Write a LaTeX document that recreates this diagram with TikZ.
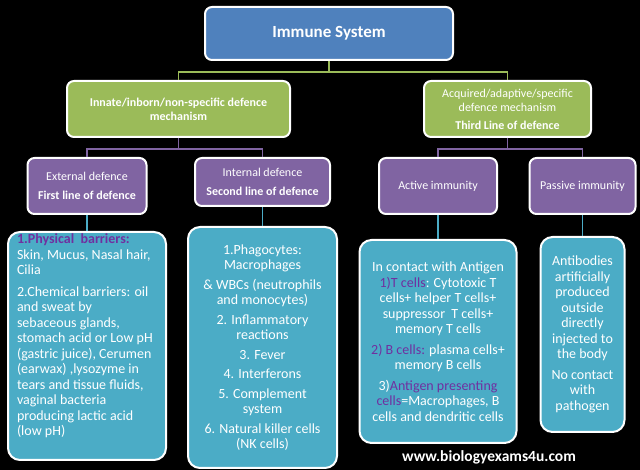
\documentclass[tikz,border=0pt]{standalone}
\usepackage{fontspec}
\setmainfont{Carlito}
\usepackage{tikz}
\usetikzlibrary{positioning}
\definecolor{boxblue}{RGB}{79,129,189}
\definecolor{boxgreen}{RGB}{155,187,89}
\definecolor{boxpurple}{RGB}{128,100,162}
\definecolor{boxteal}{RGB}{75,172,198}
\definecolor{txtpurple}{RGB}{112,48,160}
\tikzset{
  anybox/.style={draw=white, line width=2pt, rounded corners=7pt, text=white, align=center, inner sep=2pt},
  topbox/.style={anybox, fill=boxblue, font=\fontsize{17}{20}\selectfont\bfseries},
  greenbox/.style={anybox, fill=boxgreen, font=\fontsize{12}{14}\selectfont},
  purplebox/.style={anybox, fill=boxpurple, font=\fontsize{12}{14}\selectfont},
  leafbox/.style={anybox, rounded corners=12pt, fill=boxteal, font=\fontsize{14}{15.5}\selectfont},
  gline/.style={boxgreen, line width=1.5pt},
  pline/.style={boxpurple, line width=1.5pt},
  tline/.style={boxteal, line width=1.5pt}
}
\begin{document}
\begin{tikzpicture}[x=1pt, y=1pt]

% background
\fill[black] (0,0) rectangle (640,470);
\useasboundingbox (0,0) rectangle (640,470);

% Draw top box
\node[topbox, minimum width=248pt, minimum height=53pt] (immune) at (329,436.5) {Immune System};

% Draw the two mechanisms
\node[greenbox, minimum width=223pt, minimum height=56pt] (innate) at (178.5,361)
  {\bfseries Innate/inborn/non-specific defence\\ \bfseries mechanism};
\node[greenbox, minimum width=167pt, minimum height=56pt] (acquired) at (507.5,361)
  {Acquired/adaptive/specific\\ defence mechanism\\[4pt] \bfseries Third Line of defence};

% Draw lines of defence
\node[purplebox, minimum width=119pt, minimum height=56pt] (external) at (87,284)
  {External defence\\[5pt] \bfseries First line of defence};
\node[purplebox, minimum width=135pt, minimum height=48pt] (internal) at (262.5,288)
  {Internal defence\\[5pt] \bfseries Second line of defence};
\node[purplebox, minimum width=118pt, minimum height=56pt] (active) at (438,284) {Active immunity};
\node[purplebox, minimum width=106pt, minimum height=56pt] (passive) at (582.5,284) {Passive immunity};

% Draw the detail boxes
\node[leafbox, inner sep=0pt, minimum width=158pt, minimum height=228pt] (physical) at (87,124)
  {\parbox[c][224pt][t]{140pt}{\raggedright
   {\color{txtpurple}\bfseries 1.Physical\ \ barriers:}\\
   Skin, Mucus, Nasal hair,\\
   Cilia\\[6pt]
   2.Chemical barriers: oil\\
   and sweat by\\
   sebaceous glands,\\
   stomach acid or Low pH\\
   (gastric juice), Cerumen\\
   (earwax) ,lysozyme in\\
   tears and tissue fluids,\\
   vaginal bacteria\\
   producing lactic acid\\
   (low pH)}};
\node[leafbox, minimum width=149pt, minimum height=241pt] (cellular) at (262.5,122.5)
  {1.Phagocytes:\\ Macrophages\\[4pt]
   \& WBCs (neutrophils\\ and monocytes)\\[4pt]
   2. Inflammatory\\ reactions\\[4pt]
   3. Fever\\[4pt]
   4. Interferons\\[4pt]
   5. Complement\\ system\\[4pt]
   6. Natural killer cells\\ (NK cells)};
\node[leafbox, minimum width=157pt, minimum height=203pt] (antigen) at (438,128.5)
  {In contact with Antigen\\
   {\color{txtpurple}1)T cells}: Cytotoxic T\\
   cells+ helper T cells+\\
   suppressor\ \ T cells+\\
   memory T cells\\[5pt]
   {\color{txtpurple}2) B cells:} plasma cells+\\
   memory B cells\\[5pt]
   3){\color{txtpurple}Antigen presenting}\\
   {\color{txtpurple}cells}=Macrophages, B\\
   cells and dendritic cells};
\node[leafbox, minimum width=84pt, minimum height=195pt] (antibody) at (582.5,135.5)
  {Antibodies\\ artificially\\ produced\\ outside\\ directly\\ injected to\\ the body\\[5pt]
   No contact\\ with\\ pathogen};

% Draw connectors
\draw[gline] (immune.south) -- ++(0,-11) -| (innate.north);
\draw[gline] (immune.south) -- ++(0,-11) -| (acquired.north);
\draw[pline] (innate.south) -- ++(0,-11) -| (external.north);
\draw[pline] (innate.south) -- ++(0,-11) -| (internal.north);
\draw[pline] (acquired.south) -- ++(0,-11) -| (active.north);
\draw[pline] (acquired.south) -- ++(0,-11) -| (passive.north);
\draw[tline] (external.south) -- (physical.north);
\draw[tline] (internal.south) -- (cellular.north);
\draw[tline] (active.south) -- (antigen.north);
\draw[tline] (passive.south) -- (antibody.north);

% web address
\node[text=white, font=\fontsize{15.5}{17}\selectfont\bfseries] (site) at (489,13) {www.biologyexams4u.com};

\end{tikzpicture}
\end{document}
